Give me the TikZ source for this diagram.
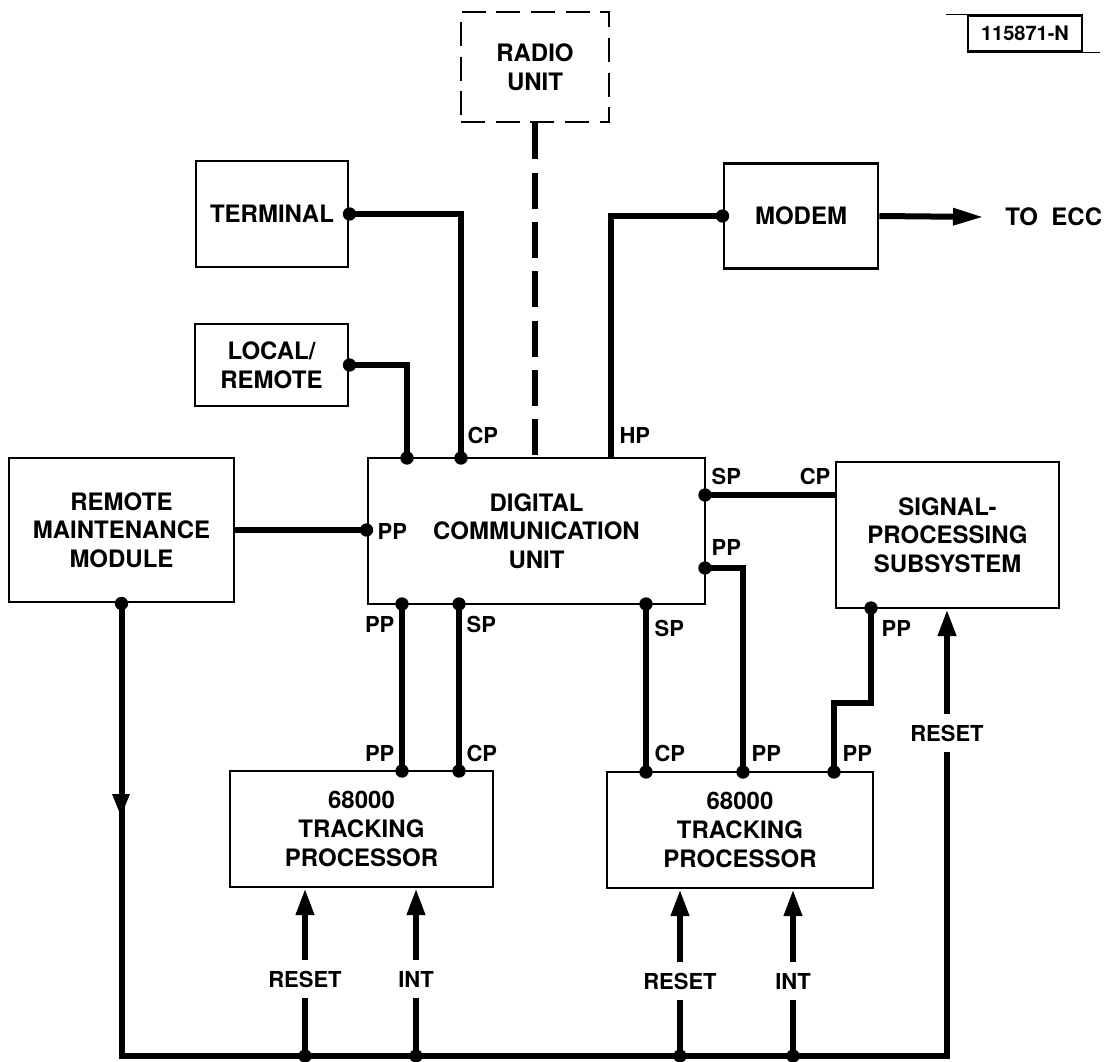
\documentclass[tikz,border=0pt]{standalone}
\usepackage{fontspec}
\setsansfont{TeX Gyre Heros}
\usetikzlibrary{arrows.meta,positioning,calc}

\begin{document}
\begin{tikzpicture}[x=0.75pt,y=-0.75pt,
  blk/.style={draw,line width=2.2pt,inner sep=2pt,align=center,font=\sffamily\bfseries\fontsize{18}{21.5}\selectfont},
  port/.style={font=\sffamily\bfseries\fontsize{16.5}{18}\selectfont,inner sep=1pt},
  sigtext/.style={font=\sffamily\bfseries\fontsize{16.5}{18}\selectfont,inner sep=8pt},
  wire/.style={line width=4.5pt},
  sig/.style={line width=4.5pt,-{Triangle[length=20pt,width=13pt]}}]
\useasboundingbox (0,0) rectangle (1110,1061);
\node[blk,minimum width=111pt,minimum height=82.5pt,dash pattern=on 18pt off 8pt] (radio) at (535,67) {RADIO\\UNIT};
\node[blk,minimum width=114pt,minimum height=79.5pt] (term) at (272,214) {TERMINAL};
\node[blk,minimum width=114.75pt,minimum height=61.5pt] (locrem) at (271.5,365) {LOCAL/\\REMOTE};
\node[blk,minimum width=115.5pt,minimum height=78.75pt] (modem) at (801,216) {MODEM};
\node[blk,minimum width=252.75pt,minimum height=109.5pt] (dcu) at (536.5,531) {DIGITAL\\COMMUNICATION\\UNIT};
\node[blk,minimum width=168.75pt,minimum height=108pt] (rmm) at (121.5,530) {REMOTE\\MAINTENANCE\\MODULE};
\node[blk,minimum width=167.25pt,minimum height=109.5pt] (sps) at (947.5,535) {SIGNAL-\\PROCESSING\\SUBSYSTEM};
\node[blk,minimum width=197.25pt,minimum height=87pt] (tpa) at (361.5,829) {68000\\TRACKING\\PROCESSOR};
\node[blk,minimum width=199.5pt,minimum height=87pt] (tpb) at (740,830) {68000\\TRACKING\\PROCESSOR};
\node[draw,line width=1.6pt,minimum width=86pt,minimum height=27pt,inner sep=1pt,font=\sffamily\bfseries\fontsize{15}{16}\selectfont] (tag) at (1025,33.5) {115871-N};
\draw[line width=1.3pt] (tag.north west) -- ++(-21,0);
\draw[line width=1.3pt] (tag.south east) -- ++(17,0);
\node[anchor=west,inner sep=0pt,font=\sffamily\bfseries\fontsize{18}{20}\selectfont] (ecc) at (1005,217) {TO\ \ ECC};
\coordinate (bus) at (0,1056);

\draw[wire] (term.east) -| (461,0 |- dcu.north);
\draw[wire] (locrem.east) -| (407,0 |- dcu.north);
\draw[wire,dash pattern=on 27pt off 10pt] (radio.south) -- (radio.south |- dcu.north);
\draw[wire] (611,0 |- dcu.north) |- (modem.west);
\draw[wire,-{Triangle[length=23pt,width=12pt]}] (modem.east) -- ([xshift=-16pt]ecc.west);
\draw[wire] (rmm.east) -- (rmm.east -| dcu.west);
\draw[wire] (402,0 |- dcu.south) -- (402,0 |- tpa.north);
\draw[wire] (459,0 |- dcu.south) -- (459,0 |- tpa.north);
\draw[wire] (dcu.east |- 0,495) -- (sps.west |- 0,495);
\draw[wire] (dcu.east |- 0,568) -| (743,0 |- tpb.north);
\draw[wire] (646,0 |- dcu.south) -- (646,0 |- tpb.north);
\draw[wire] (871,0 |- sps.south) -- (871,703) -| (834,0 |- tpb.north);

\node[port,anchor=west] (lcp) at (466,435) {CP};
\node[port,anchor=west] (lhp) at (618,435) {HP};
\node[port,anchor=west] (lpp1) at (376,531) {PP};
\node[port,anchor=west] (lsp1) at (710,476) {SP};
\node[port,anchor=east] (lcp1) at (832,476) {CP};
\node[port,anchor=west] (lpp2) at (710,547) {PP};
\node[port,anchor=east] (lpp3) at (396,624) {PP};
\node[port,anchor=west] (lsp2) at (465,624) {SP};
\node[port,anchor=east] (lpp4) at (396,753) {PP};
\node[port,anchor=west] (lcp2) at (465,753) {CP};
\node[port,anchor=west] (lsp3) at (653,628) {SP};
\node[port,anchor=west] (lcp3) at (653,753) {CP};
\node[port,anchor=west] (lpp5) at (750,753) {PP};
\node[port,anchor=west] (lpp6) at (841,753) {PP};
\node[port,anchor=west] (lpp7) at (880,628) {PP};

\node[sigtext] (rsa) at (305,979) {RESET};
\node[sigtext] (ina) at (416,979) {INT};
\node[sigtext] (rsb) at (680,981) {RESET};
\node[sigtext] (inb) at (793,981) {INT};
\node[sigtext] (rss) at (947,733) {RESET};
\foreach \s/\t in {rsa/tpa,ina/tpa,rsb/tpb,inb/tpb,rss/sps}
  \draw[sig] (\s.north) -- (\s.north |- \t.south);
\foreach \s in {rsa,ina,rsb,inb}
  \draw[wire] (\s.south) -- (\s.south |- bus);
\draw[wire] (rmm.south) -- (rmm.south |- bus) -| (rss.south);
\fill (112,794) -- (130,794) -- (121,816) -- cycle;

\foreach \p in {(term.east),(locrem.east),(407,458),(461,458),(modem.west),(rmm.east -| dcu.west),(rmm.south),
  (402,604),(459,604),(402,771),(459,771),(646,604),(646,772),(743,772),(834,772),(871,608),
  (705,495),(705,568),(305,1056),(416,1056),(680,1056),(793,1056)}
  \fill \p circle (5pt);
\end{tikzpicture}
\end{document}
